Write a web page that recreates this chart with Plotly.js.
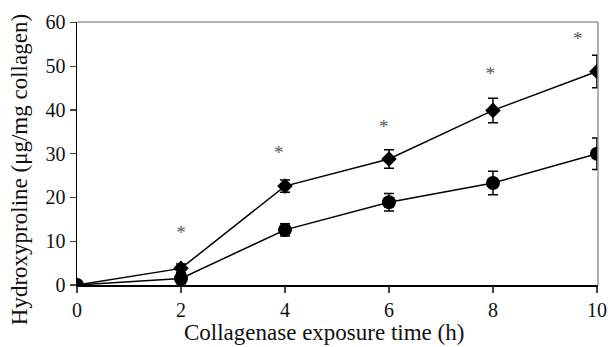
<!DOCTYPE html>
<html><head><meta charset="utf-8">
<script src="https://cdn.plot.ly/plotly-3.0.1.min.js"></script>
<style>body{margin:0;background:#fff}#chart{width:608px;height:347px}</style>
</head><body><div id="chart"></div>
<script>
const times = [0, 2, 4, 6, 8, 10];
const diamondVals = [0, 3.8, 22.6, 28.8, 39.9, 48.8];
const diamondErr = [0, 1.0, 1.4, 2.1, 2.8, 3.7];
const circleVals = [0, 1.5, 12.6, 18.9, 23.3, 30.0];
const circleErr = [0, 1.2, 1.4, 2.0, 2.7, 3.6];
const starX = [2, 3.88, 5.9, 7.95, 9.63];
const starY = [11.7, 29.8, 35.9, 48.0, 56.0];
const xTicks = [0, 2, 4, 6, 8, 10];
const yTicks = [0, 10, 20, 30, 40, 50, 60];
const xTitle = 'Collagenase exposure time (h)';
const yTitle = 'Hydroxyproline (μg/mg collagen)';

const errStyle = {type: 'data', visible: true, thickness: 1.5, width: 5, color: '#000'};
const traces = [
  {x: times, y: circleVals, mode: 'lines+markers', type: 'scatter',
   error_y: Object.assign({array: circleErr}, errStyle),
   line: {color: '#000', width: 1.5},
   marker: {symbol: 'circle', size: 14, color: '#000'}},
  {x: times, y: diamondVals, mode: 'lines+markers', type: 'scatter',
   error_y: Object.assign({array: diamondErr}, errStyle),
   line: {color: '#000', width: 1.5},
   marker: {symbol: 'diamond', size: 12, color: '#000'}},
  {x: starX, y: starY, mode: 'text', type: 'scatter', text: starX.map(() => '*'),
   textfont: {family: 'Liberation Serif', size: 19, color: '#555'}, cliponaxis: false}
];
const layout = {
  width: 608, height: 347,
  margin: {l: 77, r: 10, t: 22, b: 62},
  paper_bgcolor: '#fff', plot_bgcolor: '#fff',
  showlegend: false,
  font: {family: 'Liberation Serif', color: '#111'},
  xaxis: {range: [0, 10.02], tickvals: xTicks, ticks: 'outside', ticklen: 6, tickwidth: 1.2,
          showgrid: false, zeroline: false, showline: true, linecolor: '#000', linewidth: 1.5,
          tickfont: {size: 20}},
  yaxis: {range: [0, 60.1], tickvals: yTicks, ticks: 'outside', ticklen: 6, tickwidth: 1.2,
          showgrid: false, zeroline: false, showline: true, linecolor: '#000', linewidth: 1.5,
          tickfont: {size: 20}},
  annotations: [
    {text: xTitle, xref: 'paper', yref: 'paper', x: 0.475, y: -0.179, xanchor: 'center', yanchor: 'middle',
     showarrow: false, font: {size: 23, color: '#111'}},
    {text: yTitle, xref: 'paper', yref: 'paper', x: -0.1115, y: 0.44, xanchor: 'center', yanchor: 'middle',
     textangle: -90, showarrow: false, font: {size: 23, color: '#111'}}
  ],
  shapes: [
    {type: 'line', xref: 'paper', yref: 'paper', x0: 0, x1: 1, y0: 1, y1: 1, line: {color: '#999', width: 1.5}},
    {type: 'line', xref: 'paper', yref: 'paper', x0: 1, x1: 1, y0: 0, y1: 1, line: {color: '#999', width: 1.5}}
  ]
};
Plotly.newPlot('chart', traces, layout, {displayModeBar: false, staticPlot: true});
</script></body></html>
